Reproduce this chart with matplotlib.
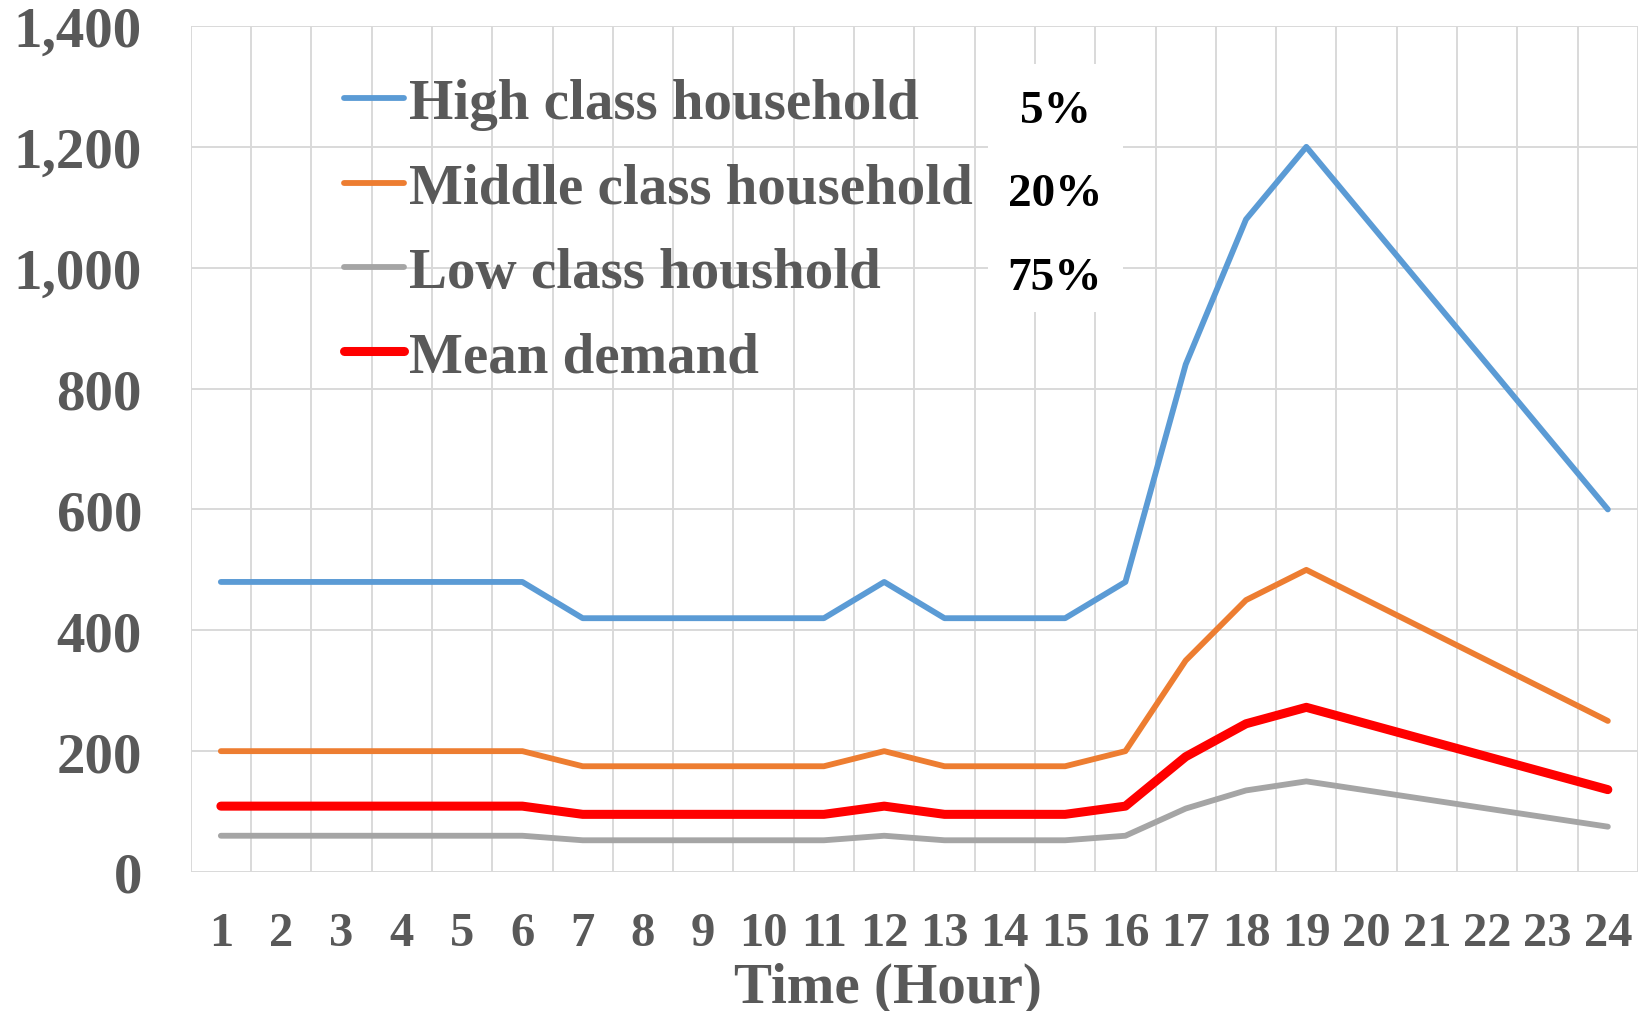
import matplotlib
matplotlib.use('Agg')
import matplotlib.pyplot as plt
from matplotlib.patches import Rectangle

plt.rcParams['font.family'] = ['Liberation Serif', 'DejaVu Serif']
plt.rcParams['font.weight'] = 'bold'
plt.rcParams['axes.labelweight'] = 'bold'

hours = list(range(1, 25))

high_class = [480, 480, 480, 480, 480, 480, 420, 420, 420, 420, 420, 480,
              420, 420, 420, 480, 840, 1080, 1200, 1080, 960, 840, 720, 600]
middle_class = [200, 200, 200, 200, 200, 200, 175, 175, 175, 175, 175, 200,
                175, 175, 175, 200, 350, 450, 500, 450, 400, 350, 300, 250]
low_class = [60, 60, 60, 60, 60, 60, 52.5, 52.5, 52.5, 52.5, 52.5, 60,
             52.5, 52.5, 52.5, 60, 105, 135, 150, 135, 120, 105, 90, 75]
mean_demand = [109, 109, 109, 109, 109, 109, 95.4, 95.4, 95.4, 95.4, 95.4, 109,
               95.4, 95.4, 95.4, 109, 190.8, 245.3, 272.5, 245.3, 218, 190.8, 163.5, 136.3]

labels = ['High class household', 'Middle class household',
          'Low class houshold', 'Mean demand']
shares = ['5%', '20%', '75%']

TXT = '#595959'
GRID = '#D9D9D9'

W, H = 1646, 1012
fig = plt.figure(figsize=(W / 100, H / 100), dpi=100)
left, right, top, bottom = 190.7, 1638, 27, 873
ax = fig.add_axes([left / W, 1 - bottom / H, (right - left) / W, (bottom - top) / H])

ax.plot(hours, high_class, color='#5B9BD5', lw=4.2, solid_capstyle='round',
        solid_joinstyle='round', label=labels[0], zorder=3)
ax.plot(hours, middle_class, color='#ED7D31', lw=4.2, solid_capstyle='round',
        solid_joinstyle='round', label=labels[1], zorder=3)
ax.plot(hours, low_class, color='#A5A5A5', lw=4.2, solid_capstyle='round',
        solid_joinstyle='round', label=labels[2], zorder=3)
ax.plot(hours, mean_demand, color='#FF0000', lw=6.5, solid_capstyle='round',
        solid_joinstyle='round', label=labels[3], zorder=4)

ax.set_xlim(0.5, 24.5)
ax.set_ylim(0, 1400)
ax.set_xticks(hours)
ax.set_xticks([h + 0.5 for h in range(0, 25)], minor=True)
ax.set_yticks(range(0, 1401, 200))
ax.set_yticklabels([f'{v:,}' for v in range(0, 1401, 200)])
ax.set_axisbelow(True)
ax.grid(True, which='minor', axis='x', color=GRID, lw=1.4)
ax.grid(True, which='major', axis='y', color=GRID, lw=1.4)
ax.tick_params(axis='both', which='both', length=0)
ax.tick_params(axis='y', labelsize=41, labelcolor=TXT, pad=35)
ax.tick_params(axis='x', labelsize=35, labelcolor=TXT, pad=28)
for s in ax.spines.values():
    s.set_visible(False)

ax.set_xlabel('Time (Hour)', fontsize=41, color=TXT, va='baseline', fontweight='bold')
ax.xaxis.set_label_coords((888 - left) / (right - left), (bottom - 1003) / (bottom - top))

leg = ax.legend(loc='upper left', bbox_to_anchor=(344 / W, 1 - 79 / H),
                bbox_transform=fig.transFigure, frameon=False, fontsize=41,
                handlelength=1.05, handletextpad=0.1, labelspacing=0.57,
                borderpad=0, borderaxespad=0)
for t in leg.get_texts():
    t.set_color(TXT)

# white box behind the share labels
ax.add_patch(Rectangle(((988 - left) / (right - left), (bottom - 313) / (bottom - top)),
                       (1123 - 988) / (right - left), (313 - 65) / (bottom - top),
                       transform=ax.transAxes, facecolor='white', edgecolor='none', zorder=1.5))
for s, yb in zip(shares, [123, 206, 290]):
    ax.text((1055 - left) / (right - left), (bottom - yb) / (bottom - top), s,
            transform=ax.transAxes, ha='center', va='baseline', fontsize=34,
            color='black', zorder=5)

fig.savefig('out.png', dpi=100)
